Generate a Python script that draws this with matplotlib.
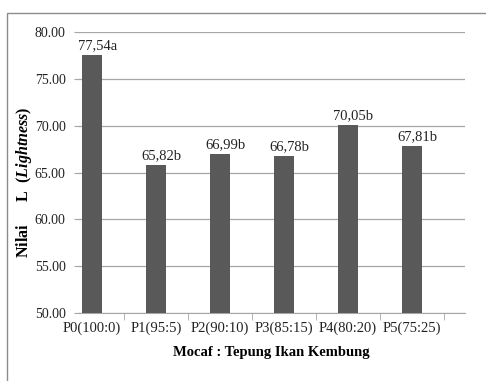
import matplotlib.pyplot as plt
from matplotlib.patches import Rectangle

# data
categories = ['P0(100:0)', 'P1(95:5)', 'P2(90:10)', 'P3(85:15)', 'P4(80:20)', 'P5(75:25)']
values = [77.54, 65.82, 66.99, 66.78, 70.05, 67.81]
labels = ['77,54a', '65,82b', '66,99b', '66,78b', '70,05b', '67,81b']
yticks = [50, 55, 60, 65, 70, 75, 80]

plt.rcParams['font.family'] = 'Liberation Serif'
plt.rcParams['mathtext.fontset'] = 'custom'
plt.rcParams['mathtext.rm'] = 'Liberation Serif'
plt.rcParams['mathtext.it'] = 'Liberation Serif:italic'
plt.rcParams['mathtext.bf'] = 'Liberation Serif:bold'
plt.rcParams['mathtext.bfit'] = 'Liberation Serif:bold:italic'

fig = plt.figure(figsize=(4.86, 3.81), dpi=100)
fig.patches.append(Rectangle((7 / 486, -0.1), 1.2, 1 - 13 / 381 + 0.1, transform=fig.transFigure,
                             fill=False, edgecolor='#8c8c8c', linewidth=1.0))

ax = fig.add_axes([78 / 486, 1 - 313 / 381, 387 / 486, 281 / 381])
x = list(range(len(categories)))
ax.bar(x, values, width=0.32, color='#595959', zorder=3, bottom=0)
ax.set_ylim(50, 80)
ax.set_xlim(-0.22, 5.83)
ax.set_yticks(yticks)
ax.set_yticklabels(['%.2f' % v for v in yticks], fontsize=10, color='#222222')
ax.yaxis.grid(True, color='#a6a6a6', linewidth=0.9, zorder=0)
ax.tick_params(axis='y', length=3, color='#a6a6a6', pad=6)

ax.set_xticks(x)
ax.set_xticklabels(categories, fontsize=10.5, color='#222222')
ax.set_xticks([i + 0.5 for i in range(len(categories))], minor=True)
ax.tick_params(axis='x', which='major', length=0, pad=6)
ax.tick_params(axis='x', which='minor', length=5, color='#a6a6a6', direction='out')

for s in ['top', 'right', 'left']:
    ax.spines[s].set_visible(False)
ax.spines['bottom'].set_color('#a6a6a6')

for xi, v, t in zip(x, values, labels):
    ax.text(xi + 0.08, v + 0.3, t, ha='center', va='bottom', fontsize=10.5, color='#222222')

ax.set_xlabel('Mocaf : Tepung Ikan Kembung', fontsize=10.5, fontweight='bold', labelpad=8)
fig.text(24 / 486, 1 - 182 / 381, r'Nilai      L  ($\mathbfit{Lightness}$)', rotation=90,
         ha='center', va='center', fontsize=11.5, fontweight='bold')

fig.savefig('out.png', dpi=100)
